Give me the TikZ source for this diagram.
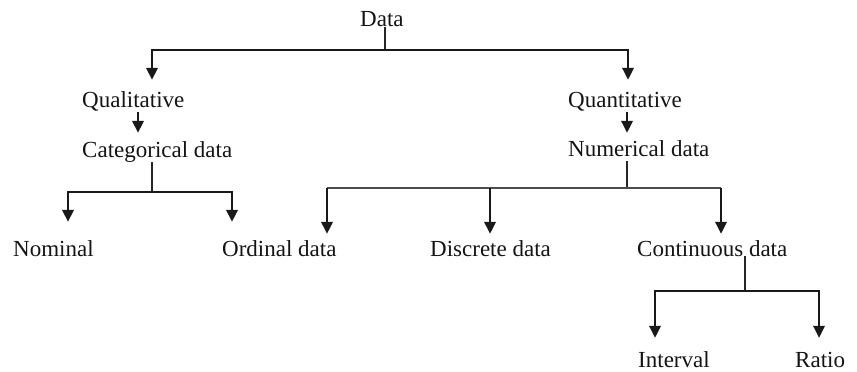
\documentclass[tikz,border=0pt]{standalone}
\usepackage{fontspec}
\setmainfont{Liberation Serif}
\usetikzlibrary{arrows.meta}
\begin{document}
\begin{tikzpicture}[x=1pt,y=-1pt,
  lbl/.style={anchor=base west,inner sep=0pt,text height=16pt,text depth=5pt,
    font=\fontsize{23}{27}\selectfont,text=black!92},
  stem/.style={line width=1.1pt,draw=black!85},
  thinbar/.style={line width=1.1pt,draw=black!70},
  arr/.style={line width=1.7pt,draw=black!90,line join=miter,
    -{Triangle[length=12pt,width=11.5pt]}}]
\useasboundingbox (0,0) rectangle (857,372);
% labels
\node[lbl] (data)  at (360,27)  {Data};
\node[lbl] (qual)  at (82,107)  {Qualitative};
\node[lbl] (quant) at (568,107) {Quantitative};
\node[lbl] (cat)   at (82,157)  {Categorical data};
\node[lbl] (num)   at (568,156) {Numerical data};
\node[lbl] (nom)   at (13,256)  {Nominal};
\node[lbl] (ord)   at (222,256) {Ordinal data};
\node[lbl] (disc)  at (430,256) {Discrete data};
\node[lbl] (cont)  at (637,256) {Continuous data};
\node[lbl] (int)   at (638,367) {Interval};
\node[lbl] (rat)   at (795,367) {Ratio};
% junctions
\coordinate (j0)  at (385,50);
\coordinate (j0l) at (152,50);
\coordinate (j0r) at (628,50);
\coordinate (a1)  at (138,0);
\coordinate (a2)  at (627,0);
\coordinate (j1)  at (152,192);
\coordinate (j1l) at (68,192);
\coordinate (j1r) at (232,192);
\coordinate (j2)  at (627,188);
\coordinate (j2a) at (327,188);
\coordinate (j2b) at (490,188);
\coordinate (j2c) at (721,188);
\coordinate (j3)  at (745,291);
\coordinate (j3l) at (655,291);
\coordinate (j3r) at (819,291);
% Data
\draw[stem] (data.base -| j0) -- (j0);
\draw[arr,shorten >=11pt] (j0) -| (qual.north -| j0l);
\draw[arr,shorten >=11pt] (j0) -| (quant.north -| j0r);
% Qualitative / Quantitative
\draw[arr,shorten >=8pt] (qual.south -| a1) -- (cat.north -| a1);
\draw[arr,shorten >=7pt] (quant.south -| a2) -- (num.north -| a2);
% Categorical
\draw[stem] (cat.south -| j1) -- (j1);
\draw[arr,shorten >=18pt] (j1) -| (nom.north -| j1l);
\draw[arr,shorten >=18pt] (j1) -| (ord.north -| j1r);
% Numerical
\draw[stem] (num.south -| j2) -- (j2);
\draw[thinbar] (j2a) -- (j2c);
\draw[arr,shorten >=6pt] (j2a) -- (ord.north -| j2a);
\draw[arr,shorten >=6pt] (j2b) -- (disc.north -| j2b);
\draw[arr,shorten >=6pt] (j2c) -- (cont.north -| j2c);
% Continuous
\draw[stem] (cont.base -| j3) -- (j3);
\draw[arr,shorten >=13pt] (j3) -| (int.north -| j3l);
\draw[arr,shorten >=13pt] (j3) -| (rat.north -| j3r);
\end{tikzpicture}
\end{document}
